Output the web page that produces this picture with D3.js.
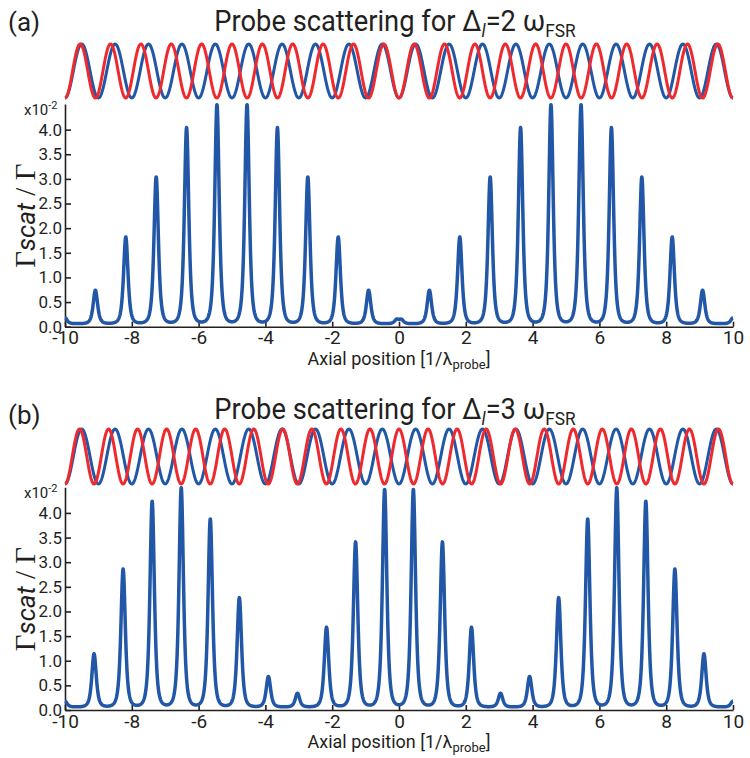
<!DOCTYPE html>
<html>
<head>
<meta charset="utf-8">
<script src="https://cdn.jsdelivr.net/npm/d3@7"></script>
<style>
  body { margin: 0; background: #fff; }
  svg { display: block; }
  text { font-family: Roboto, "Open Sans", sans-serif; fill: #231f20; }
</style>
</head>
<body>
<svg id="fig" width="750" height="758"></svg>
<script>
// Axis ticks shared by both panels
const xTicks = [-10, -8, -6, -4, -2, 0, 2, 4, 6, 8, 10];
const yTicks = [0, 0.5, 1, 1.5, 2, 2.5, 3, 3.5, 4];

// Panel (a): detuning 2 FSR — scattering peak positions and heights (x10^-2)
const peakXA = [-10, -9.09, -8.18, -7.27, -6.36, -5.45, -4.55, -3.64, -2.73, -1.82, -0.91,
                -0.07, 0.07,
                0.91, 1.82, 2.73, 3.64, 4.55, 5.45, 6.36, 7.27, 8.18, 9.09, 10];
const peakHA = [0.12, 0.68, 1.76, 2.98, 3.98, 4.45, 4.45, 3.98, 2.98, 1.76, 0.68,
                0.08, 0.08,
                0.68, 1.76, 2.98, 3.98, 4.45, 4.45, 3.98, 2.98, 1.76, 0.68, 0.12];

// Panel (b): detuning 3 FSR
const peakXB = [-10, -9.13, -8.26, -7.39, -6.52, -5.65, -4.78, -3.91, -3.04, -2.17, -1.30, -0.43,
                0.43, 1.30, 2.17, 3.04, 3.91, 4.78, 5.65, 6.52, 7.39, 8.26, 9.13, 10];
const peakHB = [0.12, 1.08, 2.8, 4.18, 4.45, 3.82, 2.22, 0.62, 0.28, 1.62, 3.35, 4.42,
                4.42, 3.35, 1.62, 0.28, 0.62, 2.22, 3.82, 4.45, 4.18, 2.8, 1.08, 0.12];

// Spatial frequencies (per probe wavelength) of the probe (blue) and lattice (red) standing waves
const probeFreq = [1.0, 1.0];
const latticeFreq = [1.1, 1.15];

const panelLetters = ["(a)", "(b)"];
const detuningLabels = ["2", "3"];

const BLUE = "#2157a6";
const RED = "#ee2a2f";
const INK = "#231f20";

const svg = d3.select("#fig");

// Line profile of each scattering resonance
const PEAK_W = 0.12, BASE = 0.06;
function scatterCurve(px, ph) {
  const pts = [];
  const n = 3000;
  for (let i = 0; i <= n; i++) {
    const x = -10 + 20 * i / n;
    let y = BASE;
    for (let k = 0; k < px.length; k++) {
      const u = (x - px[k]) / PEAK_W;
      y += ph[k] / Math.pow(1 + u * u, 2);
    }
    pts.push([x, y]);
  }
  return pts;
}

function wavePoints(freq) {
  const pts = [];
  const n = 1600;
  for (let i = 0; i <= n; i++) {
    const x = -10 + 20 * i / n;
    pts.push([x, (1 - Math.cos(2 * Math.PI * freq * (x + 10))) / 2]);
  }
  return pts;
}

function drawPanel(cfg) {
  const g = svg.append("g");
  const x = d3.scaleLinear().domain([-10, 10]).range([65, 733]);
  const y = d3.scaleLinear().domain([0, 4.52]).range([cfg.bottom, cfg.bottom - 222.7]);
  const wy = d3.scaleLinear().domain([0, 1]).range([cfg.waveBottom, cfg.waveTop]);

  // panel letter and title
  g.append("text").attr("x", 8).attr("y", cfg.letterY)
    .style("font-size", "26px").text(cfg.letter);

  const tg = g.append("g").attr("transform", `translate(395,${cfg.titleY}) scale(0.91,1)`);
  const t = tg.append("text").attr("x", 0).attr("y", 0)
    .attr("text-anchor", "middle").style("font-size", "30px");
  t.append("tspan").text("Probe scattering for \u0394");
  t.append("tspan").attr("dy", 6).style("font-size", "19px").style("font-style", "italic").text("l");
  t.append("tspan").attr("dy", -6).text("=" + cfg.detuning + " \u03c9");
  t.append("tspan").attr("dy", 6).style("font-size", "19px").text("FSR");

  // standing waves of probe and lattice
  const wl = d3.line().x(d => x(d[0])).y(d => wy(d[1]));
  g.append("path").attr("d", wl(wavePoints(cfg.probeFreq)))
    .attr("fill", "none").attr("stroke", BLUE).attr("stroke-width", 3);
  g.append("path").attr("d", wl(wavePoints(cfg.latticeFreq)))
    .attr("fill", "none").attr("stroke", RED).attr("stroke-width", 3);

  // axes
  const ax = g.append("g").attr("transform", `translate(0,${cfg.bottom})`)
    .call(d3.axisBottom(x).tickValues(xTicks).tickFormat(d => String(d))
      .tickSizeInner(-5).tickSizeOuter(0).tickPadding(4));
  ax.selectAll("text").style("font-size", "19px").attr("fill", INK);

  const ay = g.append("g").attr("transform", "translate(65,0)")
    .call(d3.axisLeft(y).tickValues(yTicks).tickFormat(d3.format(".1f"))
      .tickSizeInner(-6).tickSizeOuter(0).tickPadding(3));
  ay.selectAll("text").style("font-size", "17px").attr("fill", INK);

  [ax, ay].forEach(a => {
    a.select(".domain").attr("stroke", INK).attr("stroke-width", 1.6);
    a.selectAll(".tick line").attr("stroke", INK).attr("stroke-width", 1.6);
  });

  // scale factor
  const sf = g.append("text").attr("x", 24).attr("y", cfg.bottom - 212).style("font-size", "15px");
  sf.append("tspan").text("x10");
  sf.append("tspan").attr("dy", -6).style("font-size", "11px").text("-2");

  // y label
  const yl = g.append("text")
    .attr("transform", `translate(35,${cfg.bottom - 111}) rotate(-90)`)
    .attr("text-anchor", "middle").style("font-size", "29px");
  yl.append("tspan").style("font-family", "'Liberation Serif', serif").text("\u0393");
  yl.append("tspan").style("font-style", "italic").style("font-size", "26px").text("scat");
  yl.append("tspan").style("font-family", "'Liberation Serif', serif").text(" / \u0393");

  // x label
  const xl = g.append("text").attr("x", 399).attr("y", cfg.bottom + 38)
    .attr("text-anchor", "middle").style("font-size", "18px");
  xl.append("tspan").text("Axial position [1/\u03bb");
  xl.append("tspan").attr("dy", 4).style("font-size", "13px").text("probe");
  xl.append("tspan").attr("dy", -4).text("]");

  // scattering rate
  const line = d3.line().x(d => x(d[0])).y(d => y(d[1]));
  g.append("path").attr("d", line(scatterCurve(cfg.px, cfg.ph)))
    .attr("fill", "none").attr("stroke", BLUE).attr("stroke-width", 3.5)
    .attr("stroke-linejoin", "round");
}

drawPanel({ letter: panelLetters[0], detuning: detuningLabels[0], titleY: 31, letterY: 31,
  waveTop: 44, waveBottom: 98, bottom: 326.7,
  probeFreq: probeFreq[0], latticeFreq: latticeFreq[0], px: peakXA, ph: peakHA });

drawPanel({ letter: panelLetters[1], detuning: detuningLabels[1], titleY: 419, letterY: 424,
  waveTop: 429, waveBottom: 484, bottom: 710,
  probeFreq: probeFreq[1], latticeFreq: latticeFreq[1], px: peakXB, ph: peakHB });
</script>
</body>
</html>
